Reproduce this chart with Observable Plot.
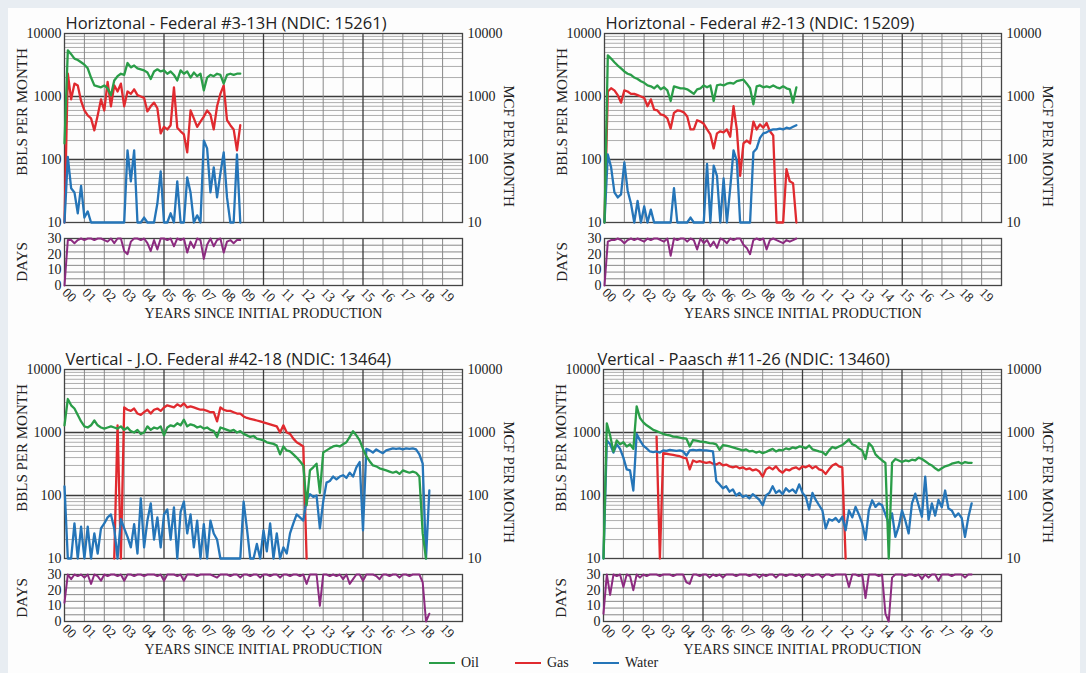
<!DOCTYPE html>
<html><head><meta charset="utf-8">
<script src="https://cdn.jsdelivr.net/npm/d3@7"></script>
<script src="https://cdn.jsdelivr.net/npm/@observablehq/plot@0.6"></script>
<style>
body{margin:0;background:#e8edf2;width:1086px;height:673px;overflow:hidden;position:relative;font-family:"Liberation Serif",serif;}
#card{position:absolute;left:8px;top:8px;width:1072px;height:665px;background:#fdfdfd;}
.p{position:absolute;}
.lg{position:absolute;top:655px;font-family:"Liberation Serif",serif;font-size:14px;color:#222;display:flex;align-items:center;}
.lg span.sw{display:inline-block;width:26px;height:2px;margin-right:6px;}
</style></head><body><div id="card"></div>
<script>
const STEP = 1/6;
const yearLabels = ["00","01","02","03","04","05","06","07","08","09","10","11","12","13","14","15","16","17","18","19"];
const mainTicks = [10, 100, 1000, 10000];
const daysTicks = [0, 10, 20, 30];
const seriesNames = ["Oil", "Gas", "Water"];
const COLORS = {Oil: "#2a9d48", Gas: "#e02a2f", Water: "#2575b8", Days: "#8c2b80"};

// Panel 1: Horiztonal - Federal #3-13H
const p1Oil = [180,5400,4700,4000,3800,3500,3200,2800,2000,1500,1450,1400,1500,1350,1050,1800,2100,2300,2200,3400,2900,3100,2800,2700,2600,2400,1900,2500,2700,2500,2600,2300,2500,2200,1800,2600,2300,2500,2000,2400,2100,2300,1250,2000,2200,2100,2300,2200,1600,2200,2300,2200,2300,2300];
const p1Gas = [10,2300,900,1600,1500,850,600,500,450,290,500,900,600,1700,700,1500,1200,1600,700,1200,1100,1300,1050,1000,950,580,700,800,650,260,330,300,350,1400,320,280,250,130,600,450,330,400,480,600,520,300,700,1100,1500,420,350,300,140,350];
const p1Water = [10,110,35,30,14,38,12,15,10,10,10,10,10,10,10,10,10,10,10,140,45,140,10,10,12,10,10,10,20,65,10,10,14,10,45,10,10,52,30,10,13,10,200,150,30,75,25,60,130,25,10,10,120,10];
const p1Days = [0,29,29,27,29,30,29,30,30,29,30,30,29,28,30,27,30,30,22,20,28,30,30,29,30,27,22,29,23,30,30,29,30,25,30,29,30,21,28,24,30,29,17,26,30,25,29,30,21,28,29,27,29,29];

// Panel 2: Horiztonal - Federal #2-13
const p2Oil = [10,4500,4000,3500,3100,2800,2500,2300,2200,2000,1900,1750,1650,1500,1450,1350,1500,1300,1400,1250,850,1450,1400,1350,1350,1300,1200,1100,1300,1350,1500,1400,1500,850,1500,1550,1500,1600,1650,1600,1750,1800,1850,1600,1350,750,1450,1500,1400,1450,1400,1500,1400,1350,1450,1350,1300,800,1400];
const p2Gas = [10,1200,1350,1250,1050,800,1250,1200,1100,1100,1050,1000,950,700,900,620,600,520,500,450,310,550,600,590,560,480,300,300,420,400,370,300,250,150,260,280,270,300,230,700,300,55,180,200,180,400,300,360,320,380,280,240,10,10,10,70,45,42,10];
const p2Water = [10,120,75,30,25,28,90,32,20,10,22,10,18,10,16,10,10,10,10,10,10,35,10,10,10,10,12,10,10,10,10,85,10,80,55,10,50,10,35,140,95,10,10,10,10,130,150,220,260,270,290,300,300,310,300,320,310,330,350];
const p2Days = [0,28,29,29,30,29,27,29,30,29,30,29,28,30,29,30,30,29,28,30,19,30,29,30,30,28,30,29,23,30,27,29,25,28,24,30,29,27,30,29,30,30,26,24,20,29,30,29,30,23,29,30,29,28,27,29,28,29,30];

// Panel 3: Vertical - J.O. Federal #42-18
const p3Oil = [1300,3400,2700,2400,1900,1500,1250,1200,1300,1550,1300,1200,1150,1200,1250,1200,1150,1250,1100,1200,1050,1000,1100,950,1000,1250,1100,1200,1150,1250,900,1200,1300,1250,1400,1300,1600,1250,1350,1300,1200,1250,1150,1200,1100,1050,850,1200,1150,1100,1050,1100,1000,1050,950,900,850,880,800,780,750,700,680,660,620,450,600,520,500,450,400,350,300,70,250,280,320,110,480,520,560,600,620,600,650,700,850,1050,900,750,550,420,350,300,290,270,260,250,240,230,240,220,250,240,230,240,230,200,25,10];
const p3Gas = [null,null,null,null,null,null,null,null,null,null,null,null,null,null,null,10,1300,10,2500,2300,2200,2400,2000,1900,2100,2300,2000,2300,2400,2200,2500,2700,2600,2500,2800,2600,2900,2500,2600,2500,2400,2300,2300,2200,2100,2100,1500,2500,2300,2200,2200,2100,2000,2000,1800,1700,1650,1600,1550,1500,1450,1400,1350,1300,1250,1000,1300,1000,950,800,700,650,600,10];
const p3Water = [140,10,10,36,10,32,10,32,10,25,12,30,36,45,50,30,10,42,30,22,15,35,12,90,15,40,75,20,45,15,50,60,20,65,10,55,80,25,50,15,40,10,35,10,40,25,20,10,10,10,10,10,10,10,80,30,10,10,17,10,28,13,36,10,25,10,15,12,25,36,50,45,40,85,105,95,100,30,80,160,170,200,180,200,210,190,230,200,280,340,28,550,520,480,540,500,470,520,540,560,550,560,540,560,550,560,540,450,320,10,120];
const p3Days = [12,30,27,30,29,30,28,30,24,30,29,26,30,29,30,30,29,30,26,30,30,29,30,30,29,30,30,30,29,30,26,30,30,30,29,30,26,30,30,30,29,30,30,30,30,29,28,30,30,30,29,30,30,28,30,30,29,30,30,28,30,30,29,30,30,28,30,30,29,30,30,29,30,24,30,30,30,10,30,30,29,30,29,30,27,30,24,27,30,30,26,30,30,30,29,27,30,30,29,30,30,28,30,30,29,30,30,30,25,0,5];

// Panel 4: Vertical - Paasch #11-26
const p4Oil = [10,1400,900,500,750,650,700,600,650,550,2600,1700,1450,1300,1200,1100,1050,1000,950,920,900,860,850,830,810,800,600,760,740,720,710,700,680,670,650,530,630,620,600,580,560,540,520,540,500,510,480,500,470,490,520,550,500,530,520,560,540,580,560,600,590,560,620,540,520,500,490,440,520,590,560,600,630,700,780,650,620,560,520,380,680,600,450,400,360,330,10,330,380,360,340,360,350,370,360,400,380,350,320,300,270,250,270,290,300,320,330,340,320,340,330,330];
const p4Gas = [null,null,null,null,null,null,null,null,null,null,null,null,null,null,null,null,860,10,470,460,450,440,430,420,400,390,260,360,340,350,340,330,340,320,310,330,300,310,290,280,290,270,280,260,270,250,260,240,200,260,280,260,290,250,230,260,250,270,280,260,290,280,300,270,290,260,250,220,260,300,320,290,280,10];
const p4Water = [10,750,650,480,650,550,400,260,250,120,950,750,620,560,500,490,500,480,520,510,530,520,510,520,500,430,520,530,520,530,520,520,510,500,170,150,130,140,115,125,100,110,95,100,90,105,95,85,70,100,110,140,110,120,105,130,115,125,110,150,110,95,60,110,85,70,58,30,42,40,44,38,46,28,58,45,66,50,36,20,58,84,66,75,70,50,36,52,22,32,58,40,25,75,107,70,46,200,41,75,48,85,65,120,62,58,46,52,44,22,45,75];
const p4Days = [5,30,17,30,29,30,22,30,29,20,30,28,30,29,30,30,30,29,30,30,30,29,30,30,30,25,24,30,30,29,30,30,28,30,29,30,28,30,30,30,29,30,30,30,29,30,30,28,30,29,30,30,28,30,30,29,30,30,29,30,28,30,30,29,30,30,28,30,30,29,30,30,30,30,22,30,30,29,30,15,30,30,30,29,30,5,0,28,30,30,30,29,30,30,29,30,27,30,28,30,30,26,30,30,30,29,30,30,30,28,30,30];

const panels = [
  {title: "Horiztonal - Federal #3-13H (NDIC: 15261)", L: 64, R: 462, T: 33, DT: 238, oil: p1Oil, gas: p1Gas, water: p1Water, days: p1Days, tdx: 0},
  {title: "Horiztonal - Federal #2-13 (NDIC: 15209)", L: 604, R: 1001, T: 33, DT: 238, oil: p2Oil, gas: p2Gas, water: p2Water, days: p2Days, tdx: 0},
  {title: "Vertical - J.O. Federal #42-18 (NDIC: 13464)", L: 64, R: 462, T: 369, DT: 574, oil: p3Oil, gas: p3Gas, water: p3Water, days: p3Days, tdx: 0},
  {title: "Vertical - Paasch #11-26 (NDIC: 13460)", L: 603, R: 1001, T: 369, DT: 574, oil: p4Oil, gas: p4Gas, water: p4Water, days: p4Days, tdx: -7}
];

const minorGrid = [];
for (const d of [10, 100, 1000]) for (let k = 2; k <= 9; k++) minorGrid.push(d * k);
const majorGrid = [100, 1000];
const yearGrid = d3.range(1, 20).filter(y => y % 5 !== 0);
const fiveGrid = [5, 10, 15];
const daysGrid = d3.range(1, 7).map(i => i * 30 / 7);

const toPts = arr => arr.map((v, i) => ({x: i * STEP, y: v}));
const MH = 189, DH = 47, ML = 60, MR = 60;
const serif = "Liberation Serif";
const LW = 2.3;

function place(svg, left, top) {
  const d = document.createElement("div");
  d.className = "p";
  d.style.left = left + "px";
  d.style.top = top + "px";
  d.appendChild(svg);
  document.body.appendChild(d);
}

for (const p of panels) {
  const W = p.R - p.L;
  const mt = 36;
  const main = Plot.plot({
    width: W + ML + MR, height: MH + mt + 2,
    marginLeft: ML, marginRight: MR, marginTop: mt, marginBottom: 2,
    x: {domain: [0, 20], axis: null},
    y: {type: "log", domain: [10, 10000], clamp: true},
    style: {fontFamily: serif, fontSize: "14px", background: "transparent", overflow: "visible", color: "#222"},
    marks: [
      Plot.ruleY(minorGrid, {stroke: "#999", strokeWidth: 0.8}),
      Plot.ruleY(majorGrid, {stroke: "#3c3c3c", strokeWidth: 1.3}),
      Plot.ruleX(yearGrid, {stroke: "#888", strokeWidth: 1}),
      Plot.ruleX(fiveGrid, {stroke: "#3c3c3c", strokeWidth: 1.3}),
      Plot.frame({stroke: "#444", strokeWidth: 1.3}),
      Plot.line(toPts(p.gas), {x: "x", y: "y", stroke: COLORS.Gas, strokeWidth: LW, strokeLinejoin: "round"}),
      Plot.line(toPts(p.water), {x: "x", y: "y", stroke: COLORS.Water, strokeWidth: LW, strokeLinejoin: "round"}),
      Plot.line(toPts(p.oil), {x: "x", y: "y", stroke: COLORS.Oil, strokeWidth: LW, strokeLinejoin: "round"}),
      Plot.axisY({anchor: "left", ticks: mainTicks, tickFormat: d => String(d), tickSize: 0, tickPadding: 3, label: null, fontSize: 14}),
      Plot.axisY({anchor: "right", ticks: mainTicks, tickFormat: d => String(d), tickSize: 0, tickPadding: 5, label: null, fontSize: 14}),
      Plot.text([p.title], {text: d => d, frameAnchor: "top-left", textAnchor: "start", lineAnchor: "bottom", dy: -5, dx: p.tdx + 1, fontFamily: "Open Sans", fontSize: 16.5, fill: "#222"}),
      Plot.text(["BBLS PER MONTH"], {text: d => d, frameAnchor: "left", textAnchor: "middle", lineAnchor: "middle", rotate: -90, dx: -42, dy: -16, fontSize: 15, fill: "#222"}),
      Plot.text(["MCF PER MONTH"], {text: d => d, frameAnchor: "right", textAnchor: "middle", lineAnchor: "middle", rotate: 90, dx: 46, dy: 18, fontSize: 15, fill: "#222"})
    ]
  });
  place(main, p.L - ML, p.T - mt);

  const dmb = 48;
  const daysPlot = Plot.plot({
    width: W + ML + MR, height: DH + 2 + dmb,
    marginLeft: ML, marginRight: MR, marginTop: 2, marginBottom: dmb,
    x: {domain: [0, 20], axis: null},
    y: {domain: [0, 30]},
    style: {fontFamily: serif, fontSize: "14px", background: "transparent", overflow: "visible", color: "#222"},
    marks: [
      Plot.ruleY(daysGrid, {stroke: "#888", strokeWidth: 1}),
      Plot.ruleX(yearGrid, {stroke: "#888", strokeWidth: 1}),
      Plot.ruleX(fiveGrid, {stroke: "#3c3c3c", strokeWidth: 1.3}),
      Plot.frame({stroke: "#444", strokeWidth: 1.3}),
      Plot.line(toPts(p.days), {x: "x", y: "y", stroke: COLORS.Days, strokeWidth: 2, strokeLinejoin: "round"}),
      Plot.axisY({anchor: "left", ticks: daysTicks, tickSize: 0, tickPadding: 3, label: null, fontSize: 14}),
      Plot.text(["DAYS"], {text: d => d, frameAnchor: "left", textAnchor: "middle", lineAnchor: "middle", rotate: -90, dx: -42, fontSize: 15, fill: "#222"}),
      Plot.text(yearLabels, {x: (d, i) => i, text: d => d, frameAnchor: "bottom", rotate: 45, textAnchor: "start", dx: -3, dy: 8, fontSize: 13.5, fill: "#222"}),
      Plot.text(["YEARS SINCE INITIAL PRODUCTION"], {text: d => d, frameAnchor: "bottom", textAnchor: "middle", dy: 32, fontSize: 14, fill: "#222"})
    ]
  });
  place(daysPlot, p.L - ML, p.DT - 2);
}

// legend
const lgPos = {Oil: 429, Gas: 515, Water: 593};
for (const name of seriesNames) {
  const d = document.createElement("div");
  d.className = "lg";
  d.style.left = lgPos[name] + "px";
  d.innerHTML = `<span class="sw" style="background:${COLORS[name]}"></span><span>${name}</span>`;
  document.body.appendChild(d);
}
</script></body></html>
